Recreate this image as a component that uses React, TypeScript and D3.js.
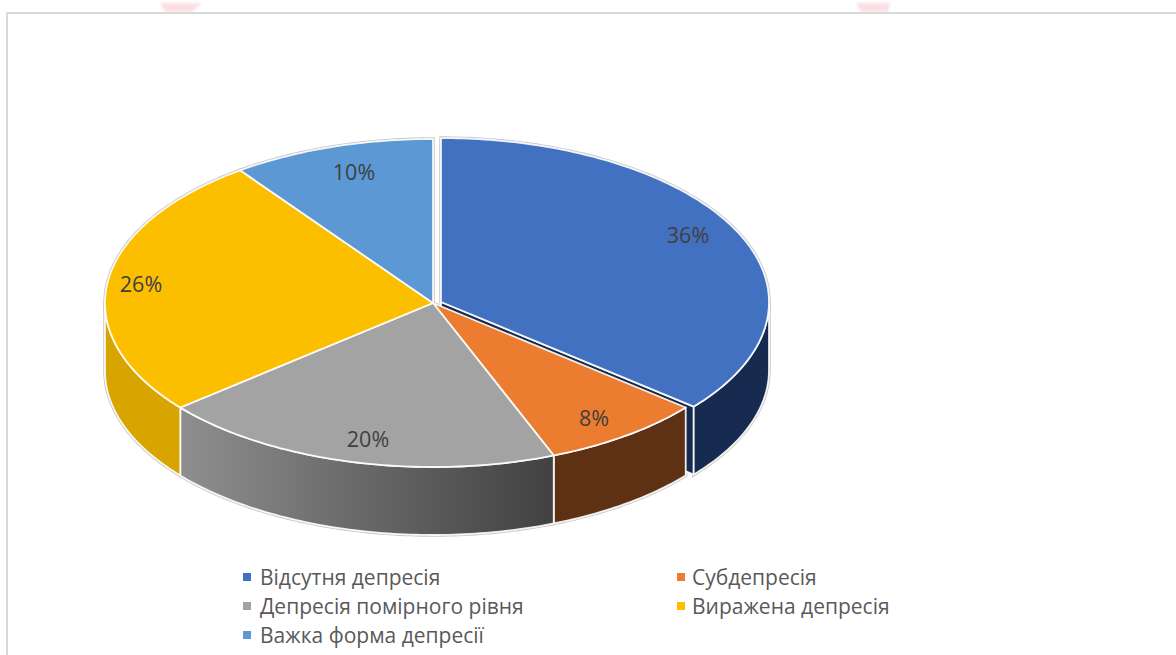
import React from "react";
import * as d3 from "d3";

const categories = ["Відсутня депресія", "Субдепресія", "Депресія помірного рівня", "Виражена депресія", "Важка форма депресії"];
const values = [36, 8, 20, 26, 10];
const topColors = ["#4371c2", "#ec7c30", "#a3a3a3", "#fcbf00", "#5b98d4"];
const sideColors = ["#172b50", "#5f3114", "url(#greySide)", "#d8a400", "#2e5f8f"];
const explode = [8, 0, 0, 0, 0];
const labelPos = [[688, 235], [594, 418], [368, 439], [141, 284], [354, 172]];
const legendPos = [[243, 260, 577], [677, 692, 577], [243, 260, 606], [677, 692, 606], [243, 260, 635]];

const W = 1176, H = 655;
const CX = 433, CY = 303, RX = 328, RY = 164, DEPTH = 68;
const FONT = "'Open Sans', 'Noto Sans', sans-serif";

const sx = d3.scaleLinear().domain([0, 1]).range([0, RX]);
const sy = d3.scaleLinear().domain([0, 1]).range([0, RY]);

const pieGen = d3.pie<number>().sort(null).startAngle(0).endAngle(2 * Math.PI);
const arcs = pieGen(values);
const line = d3.line<[number, number]>();

const pt = (a: number, ox: number, oy: number): [number, number] => [
  ox + sx(Math.sin(a)),
  oy - sy(Math.cos(a)),
];

function samples(a0: number, a1: number, ox: number, oy: number) {
  const n = Math.max(2, Math.ceil((a1 - a0) * 60));
  return d3.range(n + 1).map((i) => pt(a0 + ((a1 - a0) * i) / n, ox, oy));
}

function topPath(a0: number, a1: number, ox: number, oy: number) {
  return line([[ox, oy], ...samples(a0, a1, ox, oy)]) + "Z";
}

function wallPath(a0: number, a1: number, ox: number, oy: number) {
  const lo = Math.max(a0, Math.PI / 2);
  const hi = Math.min(a1, (3 * Math.PI) / 2);
  if (hi <= lo) return null;
  const upper = samples(lo, hi, ox, oy);
  const lower = upper.map(([x, y]) => [x, y + DEPTH] as [number, number]).reverse();
  return line([...upper, ...lower]) + "Z";
}

function cutFace(a: number, ox: number, oy: number) {
  const e = pt(a, ox, oy);
  return line([[ox, oy], e, [e[0], e[1] + DEPTH], [ox, oy + DEPTH]]) + "Z";
}

const slices = arcs.map((d, i) => {
  const ox = CX + explode[i];
  const oy = CY - explode[i] * 0.12;
  return {
    i,
    top: topPath(d.startAngle, d.endAngle, ox, oy),
    wall: wallPath(d.startAngle, d.endAngle, ox, oy),
    cut: explode[i] ? cutFace(d.endAngle, ox, oy) : null,
  };
});

// exploded slices are painted behind their neighbours' walls, except their top
const order = slices.slice().sort((a, b) => explode[b.i] - explode[a.i]);

export default function App() {
  return (
    <svg
      width={W}
      height={H}
      viewBox={`0 0 ${W} ${H}`}
      style={{ position: "absolute", left: 0, top: 0, background: "#fff" }}
    >
      <defs>
        <linearGradient id="greySide" gradientUnits="userSpaceOnUse" x1={181} x2={554} y1={0} y2={0}>
          <stop offset="0" stopColor="#8e8e8e" />
          <stop offset="1" stopColor="#414141" />
        </linearGradient>
        <filter id="soft" x="-30%" y="-60%" width="160%" height="220%">
          <feGaussianBlur stdDeviation="1.5" />
        </filter>
      </defs>

      <g fill="#fbdfe4" filter="url(#soft)">
        <path d="M160 3H202L192 12H165Z" />
        <path d="M856 3H890L888 12H861Z" />
      </g>

      <path d={`M${W} 13H7V${H}`} fill="none" stroke="#d9d9d9" strokeWidth={2} />

      <g fill="none" stroke="#c8c8c8" strokeWidth={3.5}>
        {slices.map((s) => (
          <g key={s.i}>
            <path d={s.top} />
            {s.wall && <path d={s.wall} />}
          </g>
        ))}
      </g>

      {order.map((s) => (
        <g key={s.i} stroke="#fff" strokeOpacity={0.9} strokeWidth={1.8} strokeLinejoin="round">
          {s.cut && <path d={s.cut} fill={sideColors[s.i]} />}
          {s.wall && <path d={s.wall} fill={sideColors[s.i]} />}
          {!explode[s.i] && <path d={s.top} fill={topColors[s.i]} />}
        </g>
      ))}
      {slices
        .filter((s) => explode[s.i])
        .map((s) => (
          <path key={s.i} d={s.top} fill={topColors[s.i]} stroke="#fff" strokeOpacity={0.9} strokeWidth={1.8} strokeLinejoin="round" />
        ))}

      <g fontFamily={FONT} fontSize={21.5} fill="#404040" textAnchor="middle">
        {values.map((v, i) => (
          <text key={i} x={labelPos[i][0]} y={labelPos[i][1]} dy="0.36em">
            {v}%
          </text>
        ))}
      </g>

      <g fontFamily={FONT} fontSize={21} fill="#595959">
        {categories.map((c, i) => (
          <g key={i}>
            <rect x={legendPos[i][0]} y={legendPos[i][2] - 4} width={8} height={8} fill={topColors[i]} />
            <text x={legendPos[i][1]} y={legendPos[i][2]} dy="0.36em">
              {c}
            </text>
          </g>
        ))}
      </g>
    </svg>
  );
}
